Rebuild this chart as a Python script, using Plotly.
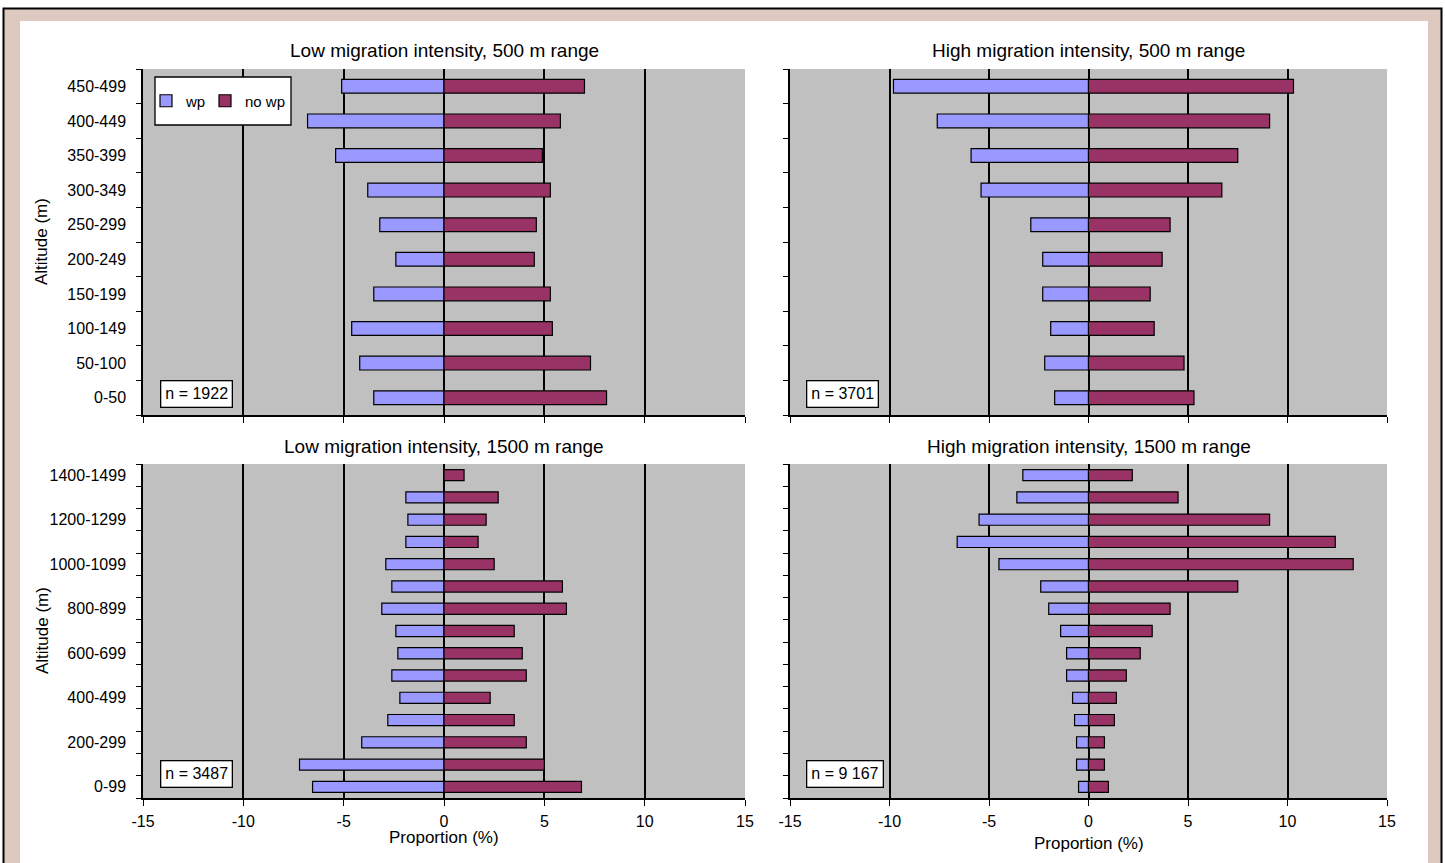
import plotly.graph_objects as go

# ---------------- data ----------------
cats_500 = ["0-50", "50-100", "100-149", "150-199", "200-249",
            "250-299", "300-349", "350-399", "400-449", "450-499"]
cats_1500 = ["0-99", "100-199", "200-299", "300-399", "400-499", "500-599",
             "600-699", "700-799", "800-899", "900-999", "1000-1099",
             "1100-1199", "1200-1299", "1300-1399", "1400-1499"]

low500_wp = [-3.5, -4.2, -4.6, -3.5, -2.4, -3.2, -3.8, -5.4, -6.8, -5.1]
low500_nowp = [8.1, 7.3, 5.4, 5.3, 4.5, 4.6, 5.3, 4.9, 5.8, 7.0]

high500_wp = [-1.7, -2.2, -1.9, -2.3, -2.3, -2.9, -5.4, -5.9, -7.6, -9.8]
high500_nowp = [5.3, 4.8, 3.3, 3.1, 3.7, 4.1, 6.7, 7.5, 9.1, 10.3]

low1500_wp = [-6.55, -7.2, -4.1, -2.8, -2.2, -2.6, -2.3, -2.4, -3.1, -2.6,
              -2.9, -1.9, -1.8, -1.9, 0.0]
low1500_nowp = [6.85, 5.0, 4.1, 3.5, 2.3, 4.1, 3.9, 3.5, 6.1, 5.9,
                2.5, 1.7, 2.1, 2.7, 1.0]

high1500_wp = [-0.5, -0.6, -0.6, -0.7, -0.8, -1.1, -1.1, -1.4, -2.0, -2.4,
               -4.5, -6.6, -5.5, -3.6, -3.3]
high1500_nowp = [1.0, 0.8, 0.8, 1.3, 1.4, 1.9, 2.6, 3.2, 4.1, 7.5,
                 13.3, 12.4, 9.1, 4.5, 2.2]

panel_titles = ["Low migration intensity, 500 m range",
                "High migration intensity, 500 m range",
                "Low migration intensity, 1500 m range",
                "High migration intensity, 1500 m range"]
n_labels = ["n = 1922", "n = 3701", "n = 3487", "n = 9 167"]
series_names = ["wp", "no wp"]
x_ticks = [-15, -10, -5, 0, 5, 10, 15]
x_ticktext = [str(v) for v in x_ticks]
x_title = "Proportion (%)"
y_title = "Altitude (m)"

# ---------------- style ----------------
W, H = 1445, 863
FONT = "Liberation Sans, Arial, sans-serif"
C_WP = "#9999FF"
C_NOWP = "#993366"
C_BG = "#C0C0C0"
C_TAN = "#DDC9C0"


def px_x(p):
    return p / W


def px_y(p):
    return 1 - p / H


# plot-area pixel boxes (left, right, top, bottom)
boxes = [(143, 745, 69, 415), (790, 1387, 69, 415),
         (143, 745, 464, 798), (790, 1387, 464, 798)]

panels = [
    (cats_500, low500_wp, low500_nowp, 0.4, 1),
    (cats_500, high500_wp, high500_nowp, 0.4, 1),
    (cats_1500, low1500_wp, low1500_nowp, 0.5, 2),
    (cats_1500, high1500_wp, high1500_nowp, 0.5, 2),
]

fig = go.Figure()
layout = dict(
    width=W, height=H, autosize=False,
    margin=dict(l=0, r=0, t=0, b=0),
    paper_bgcolor="white", plot_bgcolor=C_BG,
    barmode="relative",
    font=dict(family=FONT, color="black", size=15),
    showlegend=True,
    legend=dict(x=px_x(146), xanchor="left", y=px_y(101), yanchor="middle",
                orientation="h", bgcolor="rgba(0,0,0,0)", borderwidth=0,
                font=dict(size=15, family=FONT), itemwidth=30,
                traceorder="normal"),
)

annotations = []
shapes = []

for i, (cats, wp, nowp, bw, step) in enumerate(panels):
    k = "" if i == 0 else str(i + 1)
    xa, ya = "x" + k, "y" + k
    l, r, t, b = boxes[i]
    ypos = list(range(len(cats)))
    fig.add_trace(go.Bar(
        y=ypos, x=wp, orientation="h", name=series_names[0], width=bw,
        marker=dict(color=C_WP, line=dict(color="black", width=1.2)),
        xaxis=xa, yaxis=ya, showlegend=(i == 0), legendwidth=14,
        hoverinfo="x+name"))
    fig.add_trace(go.Bar(
        y=ypos, x=nowp, orientation="h", name=series_names[1], width=bw,
        marker=dict(color=C_NOWP, line=dict(color="black", width=1.2)),
        xaxis=xa, yaxis=ya, showlegend=(i == 0), hoverinfo="x+name"))

    bottom_row = i >= 2
    left_col = i % 2 == 0
    layout["xaxis" + k] = dict(
        domain=[px_x(l), px_x(r)], anchor=ya, range=[-15, 15],
        tickmode="array", tickvals=x_ticks, ticktext=x_ticktext,
        showticklabels=bottom_row, ticks="outside", ticklen=6, tickwidth=1.3,
        tickcolor="black", showline=True, linecolor="black", linewidth=1.5,
        showgrid=True, gridcolor="black", gridwidth=1.5,
        zeroline=True, zerolinecolor="black", zerolinewidth=1.5,
        tickfont=dict(size=16), ticklabelstandoff=2, fixedrange=True,
        automargin=False)
    layout["yaxis" + k] = dict(
        domain=[px_y(b), px_y(t)], anchor=xa, range=[-0.5, len(cats) - 0.5],
        tickmode="array", tickvals=ypos[::step], ticktext=cats[::step],
        showticklabels=left_col,
        ticks="", showline=True, linecolor="black", linewidth=1.5,
        showgrid=False, zeroline=False, tickfont=dict(size=16),
        ticklabelstandoff=12, fixedrange=True, automargin=False,
        minor=dict(tickmode="linear", tick0=-0.5, dtick=1, ticks="outside",
                   ticklen=5, tickwidth=1.3, tickcolor="black",
                   showgrid=False))

    # panel title
    annotations.append(dict(
        text=panel_titles[i], xref=xa + " domain", yref=ya + " domain",
        x=0.5, y=1, xanchor="center", yanchor="middle",
        yshift=(19 if i < 2 else 18), showarrow=False,
        font=dict(size=19, family=FONT)))
    # n box
    annotations.append(dict(
        text=n_labels[i], xref=xa + " domain", yref=ya + " domain",
        x=0, y=0, xanchor="left", yanchor="bottom",
        xshift=(17 if left_col else 16), yshift=(7 if i < 2 else 10),
        showarrow=False, bgcolor="white", bordercolor="black",
        borderwidth=1.3, borderpad=4, font=dict(size=16, family=FONT)))
    # y axis title on left panels
    if left_col:
        annotations.append(dict(
            text=y_title, xref=xa + " domain", yref=ya + " domain",
            x=0, y=0.5, xanchor="center", yanchor="middle", xshift=-101,
            textangle=-90, showarrow=False, font=dict(size=17, family=FONT)))
    # x axis title on bottom panels
    if bottom_row:
        annotations.append(dict(
            text=x_title, xref=xa + " domain", yref=ya + " domain",
            x=0.5, y=0, xanchor="center", yanchor="middle",
            yshift=-(39 if i == 2 else 45), showarrow=False,
            font=dict(size=17, family=FONT)))

# outer frame: tan strips + black outline
for x0, x1, y0, y1 in [(4, 20, 9, H + 5), (4, 1441, 9, 21), (1428, 1441, 9, H + 5)]:
    shapes.append(dict(type="rect", xref="paper", yref="paper",
                       x0=px_x(x0), x1=px_x(x1), y0=px_y(y1), y1=px_y(y0),
                       fillcolor=C_TAN, line=dict(width=0), layer="below"))
shapes.append(dict(type="rect", xref="paper", yref="paper",
                   x0=px_x(3.5), x1=px_x(1441.5), y0=px_y(H + 5), y1=px_y(8.5),
                   fillcolor="rgba(0,0,0,0)", line=dict(color="black", width=2),
                   layer="below"))
# legend box
shapes.append(dict(type="rect", xref="paper", yref="paper",
                   x0=px_x(155), x1=px_x(291), y0=px_y(125), y1=px_y(77),
                   fillcolor="white", line=dict(color="black", width=1.3),
                   layer="above"))

layout["annotations"] = annotations
layout["shapes"] = shapes
fig.update_layout(**layout)

fig.write_html("out.html", config={"displayModeBar": False},
               post_script="document.body.style.margin='0';document.body.style.overflow='hidden';")
